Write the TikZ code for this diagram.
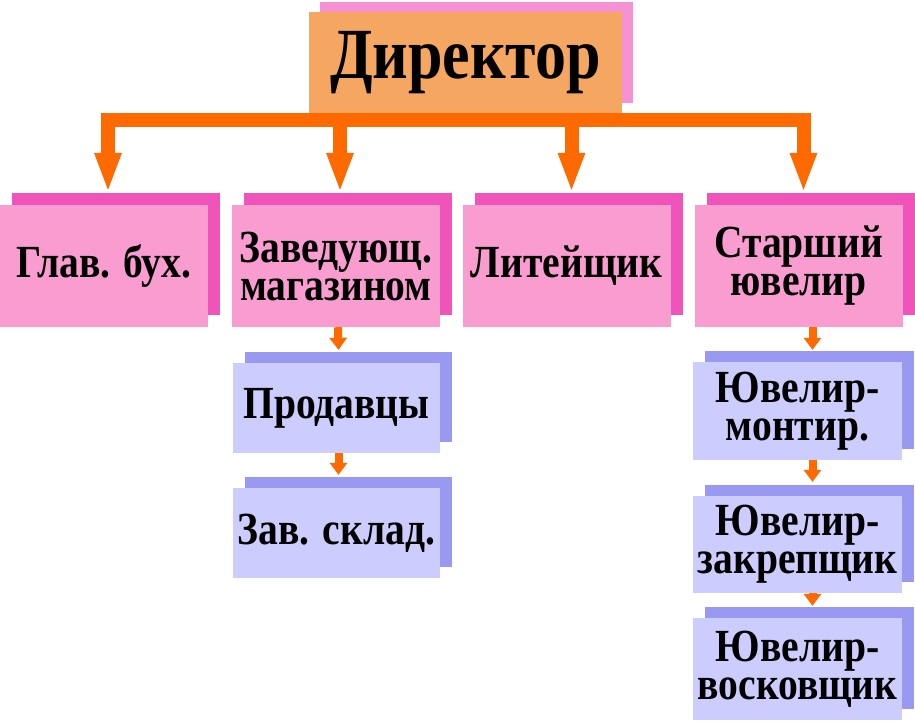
\documentclass[tikz,border=0pt]{standalone}
\usepackage{fontspec}
\setmainfont{Liberation Serif}
\newfontfamily\orgfont{Liberation Serif}[FakeStretch=0.86]
\usetikzlibrary{arrows.meta,shadows,calc}
\definecolor{dirorange}{RGB}{245,166,96}
\definecolor{dirpink}{RGB}{246,146,212}
\definecolor{pinkfront}{RGB}{249,156,207}
\definecolor{pinkdark}{RGB}{240,84,186}
\definecolor{lilafront}{RGB}{204,204,255}
\definecolor{liladark}{RGB}{153,153,242}
\definecolor{arroworange}{RGB}{255,106,0}

\begin{document}
\begin{tikzpicture}[x=1pt,y=-1pt,
    dirbox/.style={fill=dirorange,minimum width=313pt,minimum height=101pt,inner sep=0pt,
      font=\orgfont\bfseries\fontsize{72}{72}\selectfont,
      general shadow={fill=dirpink,shadow xshift=11pt,shadow yshift=10pt}},
    pinkbox/.style={fill=pinkfront,minimum width=208pt,minimum height=122pt,inner sep=0pt,align=center,
      font=\orgfont\bfseries\fontsize{46}{38}\selectfont,
      general shadow={fill=pinkdark,shadow xshift=12pt,shadow yshift=12pt}},
    lilabox/.style={fill=lilafront,minimum width=207pt,minimum height=90pt,inner sep=0pt,align=center,
      font=\orgfont\bfseries\fontsize{46}{38}\selectfont,
      general shadow={fill=liladark,shadow xshift=12pt,shadow yshift=11pt}},
    bigarrow/.style={draw=arroworange,line width=14pt,-{Triangle[width=28pt,length=37pt,line width=0pt]}},
    smallarrow/.style={draw=arroworange,line width=8pt,-{Triangle[width=18pt,length=12pt,line width=0pt]}}]
    \useasboundingbox (0,0) rectangle (915,720);
    \clip (0,0) rectangle (915,720);

    \node at (465.5,62.5) [dirbox] (dir) {Директор};

    \node at (104,266) [pinkbox] (b1) {Глав. бух.};
    \node at (336,266) [pinkbox] (b2) {Заведующ.\\магазином};
    \node at (566.5,266) [pinkbox] (b3) {Литейщик};
    \node at (798.5,266) [pinkbox] (b4) {Старший\\ювелир};

    \node at (336.5,408) [lilabox] (p1) {Продавцы};
    \node at (336.5,533) [lilabox] (p2) {Зав. склад.};

    \node at (797.5,411) [lilabox,minimum width=209pt,minimum height=98pt] (m1) {Ювелир-\\монтир.};
    \node at (797.5,544.5) [lilabox,minimum width=209pt,minimum height=97pt] (m2) {Ювелир-\\закрепщик};
    \node at (797.5,669) [lilabox,minimum width=209pt,minimum height=102pt] (m3) {Ювелир-\\восковщик};

    \draw[bigarrow] ($(dir.south)+(0,7)$) -| ($(b1.north)+(4,-15)$);
    \draw[bigarrow] ($(dir.south)+(0,7)$) -| ($(b2.north)+(4,-15)$);
    \draw[bigarrow] ($(dir.south)+(0,7)$) -| ($(b3.north)+(5,-15)$);
    \draw[bigarrow] ($(dir.south)+(0,7)$) -| ($(b4.north)+(5,-15)$);
    \draw[smallarrow] ($(b2.south)+(2,0)$) -- ($(p1.north)+(2,-13)$);
    \draw[smallarrow] ($(p1.south)+(2,0)$) -- ($(p2.north)+(2,-13)$);
    \draw[smallarrow] ($(b4.south)+(14,0)$) -- ($(m1.north)+(15,-12)$);
    \draw[smallarrow] ($(m1.south)+(15,0)$) -- ($(m2.north)+(15,-14)$);
    \draw[smallarrow] ($(m2.south)+(15,0)$) -- ($(m3.north)+(15,-12)$);
\end{tikzpicture}
\end{document}
